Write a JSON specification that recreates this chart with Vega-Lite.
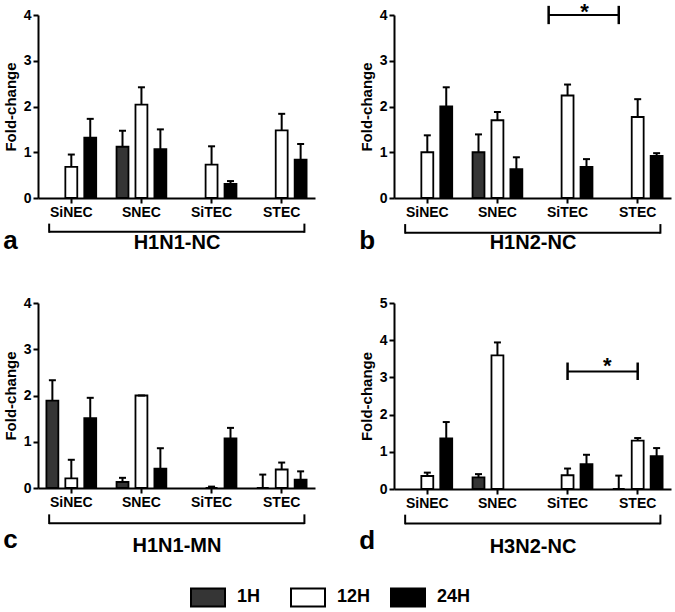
{
  "$schema": "https://vega.github.io/schema/vega-lite/v6.json",
  "padding": {"left": 3, "top": 0, "right": 2, "bottom": 2},
  "spacing": 42,
  "config": {
    "font": "Liberation Sans",
    "view": {"stroke": null},
    "axis": {"labelFont": "Liberation Sans", "labelFontWeight": "bold", "labelColor": "black", "titleFont": "Liberation Sans", "titleFontWeight": "bold", "titleColor": "black", "domainColor": "black", "tickColor": "black", "grid": false, "domainWidth": 2, "tickWidth": 2, "labelOverlap": false},
    "title": {"font": "Liberation Sans", "fontSize": 26, "fontWeight": "bold", "color": "black", "orient": "bottom", "anchor": "start", "offset": -24},
    "legend": {"labelFont": "Liberation Sans", "labelFontSize": 18, "labelFontWeight": "bold", "labelColor": "black", "symbolStrokeColor": "black", "symbolStrokeWidth": 2, "symbolType": "M-1,-0.53H1V0.53H-1Z", "symbolSize": 1156, "labelOffset": 11, "columnPadding": 16, "gridAlign": "all"}
  },
  "datasets": {
    "d": [
      {"panel": "a", "cell": "SiNEC", "time": "12H", "value": 0.68, "err": 0.95},
      {"panel": "a", "cell": "SiNEC", "time": "24H", "value": 1.32, "err": 1.73},
      {"panel": "a", "cell": "SNEC", "time": "1H", "value": 1.12, "err": 1.47},
      {"panel": "a", "cell": "SNEC", "time": "12H", "value": 2.04, "err": 2.42},
      {"panel": "a", "cell": "SNEC", "time": "24H", "value": 1.07, "err": 1.5},
      {"panel": "a", "cell": "SiTEC", "time": "12H", "value": 0.73, "err": 1.13},
      {"panel": "a", "cell": "SiTEC", "time": "24H", "value": 0.31, "err": 0.37},
      {"panel": "a", "cell": "STEC", "time": "12H", "value": 1.48, "err": 1.84},
      {"panel": "a", "cell": "STEC", "time": "24H", "value": 0.84, "err": 1.18},
      {"panel": "b", "cell": "SiNEC", "time": "12H", "value": 1.0, "err": 1.37},
      {"panel": "b", "cell": "SiNEC", "time": "24H", "value": 2.0, "err": 2.42},
      {"panel": "b", "cell": "SNEC", "time": "1H", "value": 1.0, "err": 1.39},
      {"panel": "b", "cell": "SNEC", "time": "12H", "value": 1.7, "err": 1.88},
      {"panel": "b", "cell": "SNEC", "time": "24H", "value": 0.63, "err": 0.89},
      {"panel": "b", "cell": "SiTEC", "time": "12H", "value": 2.24, "err": 2.48},
      {"panel": "b", "cell": "SiTEC", "time": "24H", "value": 0.68, "err": 0.85},
      {"panel": "b", "cell": "STEC", "time": "12H", "value": 1.77, "err": 2.16},
      {"panel": "b", "cell": "STEC", "time": "24H", "value": 0.92, "err": 0.98},
      {"panel": "c", "cell": "SiNEC", "time": "1H", "value": 1.89, "err": 2.33},
      {"panel": "c", "cell": "SiNEC", "time": "12H", "value": 0.21, "err": 0.61},
      {"panel": "c", "cell": "SiNEC", "time": "24H", "value": 1.51, "err": 1.95},
      {"panel": "c", "cell": "SNEC", "time": "1H", "value": 0.13, "err": 0.22},
      {"panel": "c", "cell": "SNEC", "time": "12H", "value": 2.0, "err": 2.0},
      {"panel": "c", "cell": "SNEC", "time": "24H", "value": 0.42, "err": 0.86},
      {"panel": "c", "cell": "SiTEC", "time": "12H", "value": 0.0, "err": 0.03},
      {"panel": "c", "cell": "SiTEC", "time": "24H", "value": 1.07, "err": 1.3},
      {"panel": "c", "cell": "STEC", "time": "1H", "value": 0.0, "err": 0.29},
      {"panel": "c", "cell": "STEC", "time": "12H", "value": 0.4, "err": 0.55},
      {"panel": "c", "cell": "STEC", "time": "24H", "value": 0.18, "err": 0.36},
      {"panel": "d", "cell": "SiNEC", "time": "12H", "value": 0.35, "err": 0.44},
      {"panel": "d", "cell": "SiNEC", "time": "24H", "value": 1.36, "err": 1.8},
      {"panel": "d", "cell": "SNEC", "time": "1H", "value": 0.31, "err": 0.4},
      {"panel": "d", "cell": "SNEC", "time": "12H", "value": 3.59, "err": 3.94},
      {"panel": "d", "cell": "SiTEC", "time": "12H", "value": 0.37, "err": 0.55},
      {"panel": "d", "cell": "SiTEC", "time": "24H", "value": 0.67, "err": 0.92},
      {"panel": "d", "cell": "STEC", "time": "1H", "value": 0.0, "err": 0.36},
      {"panel": "d", "cell": "STEC", "time": "12H", "value": 1.3, "err": 1.37},
      {"panel": "d", "cell": "STEC", "time": "24H", "value": 0.88, "err": 1.1}
    ]
  },
  "vconcat": [
    {
      "spacing": 44,
      "hconcat": [
        {
          "width": 277, "height": 183,
          "title": {"text": "a"},
          "layer": [
            {"data": {"name": "d"}, "transform": [{"filter": "datum.panel === 'a'"}],
             "mark": {"type": "bar", "stroke": "black", "strokeWidth": 1.8},
             "encoding": {
               "x": {"field": "cell", "type": "nominal", "scale": {"domain": ["SiNEC", "SNEC", "SiTEC", "STEC"], "paddingInner": 0.19, "paddingOuter": 0.07}, "axis": {"title": "H1N1-NC", "labelFontSize": 14, "labelAngle": 0, "tickSize": 5, "labelPadding": 2, "titleFontSize": 20, "titlePadding": 13}},
               "xOffset": {"field": "time", "type": "nominal", "scale": {"domain": ["1H", "12H", "24H"], "paddingInner": 0.37, "paddingOuter": 0.185}},
               "y": {"field": "value", "type": "quantitative", "scale": {"domain": [0, 4], "nice": false}, "axis": {"title": "Fold-change", "values": [0, 1, 2, 3, 4], "labelOverlap": false, "labelFontSize": 14, "tickSize": 5, "labelPadding": 2, "titleFontSize": 15, "titlePadding": 5}},
               "fill": {"field": "time", "type": "nominal", "scale": {"domain": ["1H", "12H", "24H"], "range": ["#353535", "#ffffff", "#000000"]}, "legend": {"title": null, "orient": "none", "direction": "horizontal", "legendX": 152, "legendY": 564}}
             }},
            {"data": {"name": "d"}, "transform": [{"filter": "datum.panel === 'a'"}],
             "mark": {"type": "rule", "strokeWidth": 2, "color": "black"},
             "encoding": {"x": {"field": "cell", "type": "nominal", "axis": {"title": "H1N1-NC", "labelFontSize": 14, "labelAngle": 0, "tickSize": 5, "labelPadding": 2, "titleFontSize": 20, "titlePadding": 13}}, "xOffset": {"field": "time", "type": "nominal"}, "y": {"field": "value", "type": "quantitative", "axis": {"title": "Fold-change", "values": [0, 1, 2, 3, 4], "labelOverlap": false, "labelFontSize": 14, "tickSize": 5, "labelPadding": 2, "titleFontSize": 15, "titlePadding": 5}}, "y2": {"field": "err"}}},
            {"data": {"name": "d"}, "transform": [{"filter": "datum.panel === 'a'"}],
             "mark": {"type": "tick", "orient": "horizontal", "size": 7, "thickness": 2, "color": "black", "opacity": 1},
             "encoding": {"x": {"field": "cell", "type": "nominal", "axis": {"title": "H1N1-NC", "labelFontSize": 14, "labelAngle": 0, "tickSize": 5, "labelPadding": 2, "titleFontSize": 20, "titlePadding": 13}}, "xOffset": {"field": "time", "type": "nominal"}, "y": {"field": "err", "type": "quantitative", "axis": {"title": "Fold-change", "values": [0, 1, 2, 3, 4], "labelOverlap": false, "labelFontSize": 14, "tickSize": 5, "labelPadding": 2, "titleFontSize": 15, "titlePadding": 5}}}},
            {"data": {"values": [{"yv": -0.74, "ya": -0.76, "yb": -0.56}]}, "mark": {"type": "rule", "strokeWidth": 2, "color": "black"},
             "encoding": {"x": {"datum": "SiNEC", "bandPosition": 0.11, "axis": {"title": "H1N1-NC", "labelFontSize": 14, "labelAngle": 0, "tickSize": 5, "labelPadding": 2, "titleFontSize": 20, "titlePadding": 13}}, "x2": {"datum": "STEC", "bandPosition": 0.9}, "y": {"field": "yv", "type": "quantitative", "axis": {"title": "Fold-change", "values": [0, 1, 2, 3, 4], "labelOverlap": false, "labelFontSize": 14, "tickSize": 5, "labelPadding": 2, "titleFontSize": 15, "titlePadding": 5}}}},
            {"data": {"values": [{"yv": -0.74, "ya": -0.76, "yb": -0.56}]}, "mark": {"type": "rule", "strokeWidth": 2, "color": "black"},
             "encoding": {"x": {"datum": "SiNEC", "bandPosition": 0.11, "axis": {"title": "H1N1-NC", "labelFontSize": 14, "labelAngle": 0, "tickSize": 5, "labelPadding": 2, "titleFontSize": 20, "titlePadding": 13}}, "y": {"field": "ya", "type": "quantitative", "axis": {"title": "Fold-change", "values": [0, 1, 2, 3, 4], "labelOverlap": false, "labelFontSize": 14, "tickSize": 5, "labelPadding": 2, "titleFontSize": 15, "titlePadding": 5}}, "y2": {"field": "yb"}}},
            {"data": {"values": [{"yv": -0.74, "ya": -0.76, "yb": -0.56}]}, "mark": {"type": "rule", "strokeWidth": 2, "color": "black"},
             "encoding": {"x": {"datum": "STEC", "bandPosition": 0.9, "axis": {"title": "H1N1-NC", "labelFontSize": 14, "labelAngle": 0, "tickSize": 5, "labelPadding": 2, "titleFontSize": 20, "titlePadding": 13}}, "y": {"field": "ya", "type": "quantitative", "axis": {"title": "Fold-change", "values": [0, 1, 2, 3, 4], "labelOverlap": false, "labelFontSize": 14, "tickSize": 5, "labelPadding": 2, "titleFontSize": 15, "titlePadding": 5}}, "y2": {"field": "yb"}}}
          ]
        },
        {
          "width": 277, "height": 183,
          "title": {"text": "b"},
          "layer": [
            {"data": {"name": "d"}, "transform": [{"filter": "datum.panel === 'b'"}],
             "mark": {"type": "bar", "stroke": "black", "strokeWidth": 1.8},
             "encoding": {
               "x": {"field": "cell", "type": "nominal", "scale": {"domain": ["SiNEC", "SNEC", "SiTEC", "STEC"], "paddingInner": 0.19, "paddingOuter": 0.07}, "axis": {"title": "H1N2-NC", "labelFontSize": 14, "labelAngle": 0, "tickSize": 5, "labelPadding": 2, "titleFontSize": 20, "titlePadding": 13}},
               "xOffset": {"field": "time", "type": "nominal", "scale": {"domain": ["1H", "12H", "24H"], "paddingInner": 0.37, "paddingOuter": 0.185}},
               "y": {"field": "value", "type": "quantitative", "scale": {"domain": [0, 4], "nice": false}, "axis": {"title": "Fold-change", "values": [0, 1, 2, 3, 4], "labelOverlap": false, "labelFontSize": 14, "tickSize": 5, "labelPadding": 2, "titleFontSize": 15, "titlePadding": 5}},
               "fill": {"field": "time", "type": "nominal", "scale": {"domain": ["1H", "12H", "24H"], "range": ["#353535", "#ffffff", "#000000"]}, "legend": {"title": null, "orient": "none", "direction": "horizontal", "legendX": 152, "legendY": 564}}
             }},
            {"data": {"name": "d"}, "transform": [{"filter": "datum.panel === 'b'"}],
             "mark": {"type": "rule", "strokeWidth": 2, "color": "black"},
             "encoding": {"x": {"field": "cell", "type": "nominal", "axis": {"title": "H1N2-NC", "labelFontSize": 14, "labelAngle": 0, "tickSize": 5, "labelPadding": 2, "titleFontSize": 20, "titlePadding": 13}}, "xOffset": {"field": "time", "type": "nominal"}, "y": {"field": "value", "type": "quantitative", "axis": {"title": "Fold-change", "values": [0, 1, 2, 3, 4], "labelOverlap": false, "labelFontSize": 14, "tickSize": 5, "labelPadding": 2, "titleFontSize": 15, "titlePadding": 5}}, "y2": {"field": "err"}}},
            {"data": {"name": "d"}, "transform": [{"filter": "datum.panel === 'b'"}],
             "mark": {"type": "tick", "orient": "horizontal", "size": 7, "thickness": 2, "color": "black", "opacity": 1},
             "encoding": {"x": {"field": "cell", "type": "nominal", "axis": {"title": "H1N2-NC", "labelFontSize": 14, "labelAngle": 0, "tickSize": 5, "labelPadding": 2, "titleFontSize": 20, "titlePadding": 13}}, "xOffset": {"field": "time", "type": "nominal"}, "y": {"field": "err", "type": "quantitative", "axis": {"title": "Fold-change", "values": [0, 1, 2, 3, 4], "labelOverlap": false, "labelFontSize": 14, "tickSize": 5, "labelPadding": 2, "titleFontSize": 15, "titlePadding": 5}}}},
            {"data": {"values": [{"yv": -0.76, "ya": -0.78, "yb": -0.57}]}, "mark": {"type": "rule", "strokeWidth": 2, "color": "black"},
             "encoding": {"x": {"datum": "SiNEC", "bandPosition": 0.11, "axis": {"title": "H1N2-NC", "labelFontSize": 14, "labelAngle": 0, "tickSize": 5, "labelPadding": 2, "titleFontSize": 20, "titlePadding": 13}}, "x2": {"datum": "STEC", "bandPosition": 0.9}, "y": {"field": "yv", "type": "quantitative", "axis": {"title": "Fold-change", "values": [0, 1, 2, 3, 4], "labelOverlap": false, "labelFontSize": 14, "tickSize": 5, "labelPadding": 2, "titleFontSize": 15, "titlePadding": 5}}}},
            {"data": {"values": [{"yv": -0.76, "ya": -0.78, "yb": -0.57}]}, "mark": {"type": "rule", "strokeWidth": 2, "color": "black"},
             "encoding": {"x": {"datum": "SiNEC", "bandPosition": 0.11, "axis": {"title": "H1N2-NC", "labelFontSize": 14, "labelAngle": 0, "tickSize": 5, "labelPadding": 2, "titleFontSize": 20, "titlePadding": 13}}, "y": {"field": "ya", "type": "quantitative", "axis": {"title": "Fold-change", "values": [0, 1, 2, 3, 4], "labelOverlap": false, "labelFontSize": 14, "tickSize": 5, "labelPadding": 2, "titleFontSize": 15, "titlePadding": 5}}, "y2": {"field": "yb"}}},
            {"data": {"values": [{"yv": -0.76, "ya": -0.78, "yb": -0.57}]}, "mark": {"type": "rule", "strokeWidth": 2, "color": "black"},
             "encoding": {"x": {"datum": "STEC", "bandPosition": 0.9, "axis": {"title": "H1N2-NC", "labelFontSize": 14, "labelAngle": 0, "tickSize": 5, "labelPadding": 2, "titleFontSize": 20, "titlePadding": 13}}, "y": {"field": "ya", "type": "quantitative", "axis": {"title": "Fold-change", "values": [0, 1, 2, 3, 4], "labelOverlap": false, "labelFontSize": 14, "tickSize": 5, "labelPadding": 2, "titleFontSize": 15, "titlePadding": 5}}, "y2": {"field": "yb"}}},
            {"data": {"values": [{"yv": 4.0, "ya": 3.8, "yb": 4.2, "ys": 3.92}]}, "mark": {"type": "rule", "strokeWidth": 2, "color": "black"},
             "encoding": {"x": {"datum": "SiTEC", "bandPosition": 0.167, "axis": {"title": "H1N2-NC", "labelFontSize": 14, "labelAngle": 0, "tickSize": 5, "labelPadding": 2, "titleFontSize": 20, "titlePadding": 13}}, "x2": {"datum": "STEC", "bandPosition": 0.167}, "y": {"field": "yv", "type": "quantitative", "axis": {"title": "Fold-change", "values": [0, 1, 2, 3, 4], "labelOverlap": false, "labelFontSize": 14, "tickSize": 5, "labelPadding": 2, "titleFontSize": 15, "titlePadding": 5}}}},
            {"data": {"values": [{"yv": 4.0, "ya": 3.8, "yb": 4.2, "ys": 3.92}]}, "mark": {"type": "rule", "strokeWidth": 2.5, "color": "black"},
             "encoding": {"x": {"datum": "SiTEC", "bandPosition": 0.167, "axis": {"title": "H1N2-NC", "labelFontSize": 14, "labelAngle": 0, "tickSize": 5, "labelPadding": 2, "titleFontSize": 20, "titlePadding": 13}}, "y": {"field": "ya", "type": "quantitative", "axis": {"title": "Fold-change", "values": [0, 1, 2, 3, 4], "labelOverlap": false, "labelFontSize": 14, "tickSize": 5, "labelPadding": 2, "titleFontSize": 15, "titlePadding": 5}}, "y2": {"field": "yb"}}},
            {"data": {"values": [{"yv": 4.0, "ya": 3.8, "yb": 4.2, "ys": 3.92}]}, "mark": {"type": "rule", "strokeWidth": 2.5, "color": "black"},
             "encoding": {"x": {"datum": "STEC", "bandPosition": 0.167, "axis": {"title": "H1N2-NC", "labelFontSize": 14, "labelAngle": 0, "tickSize": 5, "labelPadding": 2, "titleFontSize": 20, "titlePadding": 13}}, "y": {"field": "ya", "type": "quantitative", "axis": {"title": "Fold-change", "values": [0, 1, 2, 3, 4], "labelOverlap": false, "labelFontSize": 14, "tickSize": 5, "labelPadding": 2, "titleFontSize": 15, "titlePadding": 5}}, "y2": {"field": "yb"}}},
            {"data": {"values": [{"yv": 4.0, "ya": 3.8, "yb": 4.2, "ys": 3.92}]}, "mark": {"type": "text", "text": "*", "fontSize": 22, "fontWeight": "bold", "color": "black", "baseline": "alphabetic", "align": "center"},
             "encoding": {"x": {"datum": "SiTEC", "bandPosition": 0.8, "axis": {"title": "H1N2-NC", "labelFontSize": 14, "labelAngle": 0, "tickSize": 5, "labelPadding": 2, "titleFontSize": 20, "titlePadding": 13}}, "y": {"field": "ys", "type": "quantitative", "axis": {"title": "Fold-change", "values": [0, 1, 2, 3, 4], "labelOverlap": false, "labelFontSize": 14, "tickSize": 5, "labelPadding": 2, "titleFontSize": 15, "titlePadding": 5}}}}
          ]
        }
      ]
    },
    {
      "spacing": 44,
      "hconcat": [
        {
          "width": 277, "height": 185,
          "title": {"text": "c", "offset": -28},
          "layer": [
            {"data": {"name": "d"}, "transform": [{"filter": "datum.panel === 'c'"}],
             "mark": {"type": "bar", "stroke": "black", "strokeWidth": 1.8},
             "encoding": {
               "x": {"field": "cell", "type": "nominal", "scale": {"domain": ["SiNEC", "SNEC", "SiTEC", "STEC"], "paddingInner": 0.19, "paddingOuter": 0.07}, "axis": {"title": "H1N1-MN", "labelFontSize": 14, "labelAngle": 0, "tickSize": 5, "labelPadding": 2, "titleFontSize": 20, "titlePadding": 26}},
               "xOffset": {"field": "time", "type": "nominal", "scale": {"domain": ["1H", "12H", "24H"], "paddingInner": 0.37, "paddingOuter": 0.185}},
               "y": {"field": "value", "type": "quantitative", "scale": {"domain": [0, 4], "nice": false}, "axis": {"title": "Fold-change", "values": [0, 1, 2, 3, 4], "labelOverlap": false, "labelFontSize": 14, "tickSize": 5, "labelPadding": 2, "titleFontSize": 15, "titlePadding": 5}},
               "fill": {"field": "time", "type": "nominal", "scale": {"domain": ["1H", "12H", "24H"], "range": ["#353535", "#ffffff", "#000000"]}, "legend": {"title": null, "orient": "none", "direction": "horizontal", "legendX": 152, "legendY": 564}}
             }},
            {"data": {"name": "d"}, "transform": [{"filter": "datum.panel === 'c'"}],
             "mark": {"type": "rule", "strokeWidth": 2, "color": "black"},
             "encoding": {"x": {"field": "cell", "type": "nominal", "axis": {"title": "H1N1-MN", "labelFontSize": 14, "labelAngle": 0, "tickSize": 5, "labelPadding": 2, "titleFontSize": 20, "titlePadding": 26}}, "xOffset": {"field": "time", "type": "nominal"}, "y": {"field": "value", "type": "quantitative", "axis": {"title": "Fold-change", "values": [0, 1, 2, 3, 4], "labelOverlap": false, "labelFontSize": 14, "tickSize": 5, "labelPadding": 2, "titleFontSize": 15, "titlePadding": 5}}, "y2": {"field": "err"}}},
            {"data": {"name": "d"}, "transform": [{"filter": "datum.panel === 'c'"}],
             "mark": {"type": "tick", "orient": "horizontal", "size": 7, "thickness": 2, "color": "black", "opacity": 1},
             "encoding": {"x": {"field": "cell", "type": "nominal", "axis": {"title": "H1N1-MN", "labelFontSize": 14, "labelAngle": 0, "tickSize": 5, "labelPadding": 2, "titleFontSize": 20, "titlePadding": 26}}, "xOffset": {"field": "time", "type": "nominal"}, "y": {"field": "err", "type": "quantitative", "axis": {"title": "Fold-change", "values": [0, 1, 2, 3, 4], "labelOverlap": false, "labelFontSize": 14, "tickSize": 5, "labelPadding": 2, "titleFontSize": 15, "titlePadding": 5}}}},
            {"data": {"values": [{"yv": -0.76, "ya": -0.78, "yb": -0.57}]}, "mark": {"type": "rule", "strokeWidth": 2, "color": "black"},
             "encoding": {"x": {"datum": "SiNEC", "bandPosition": 0.11, "axis": {"title": "H1N1-MN", "labelFontSize": 14, "labelAngle": 0, "tickSize": 5, "labelPadding": 2, "titleFontSize": 20, "titlePadding": 26}}, "x2": {"datum": "STEC", "bandPosition": 0.9}, "y": {"field": "yv", "type": "quantitative", "axis": {"title": "Fold-change", "values": [0, 1, 2, 3, 4], "labelOverlap": false, "labelFontSize": 14, "tickSize": 5, "labelPadding": 2, "titleFontSize": 15, "titlePadding": 5}}}},
            {"data": {"values": [{"yv": -0.76, "ya": -0.78, "yb": -0.57}]}, "mark": {"type": "rule", "strokeWidth": 2, "color": "black"},
             "encoding": {"x": {"datum": "SiNEC", "bandPosition": 0.11, "axis": {"title": "H1N1-MN", "labelFontSize": 14, "labelAngle": 0, "tickSize": 5, "labelPadding": 2, "titleFontSize": 20, "titlePadding": 26}}, "y": {"field": "ya", "type": "quantitative", "axis": {"title": "Fold-change", "values": [0, 1, 2, 3, 4], "labelOverlap": false, "labelFontSize": 14, "tickSize": 5, "labelPadding": 2, "titleFontSize": 15, "titlePadding": 5}}, "y2": {"field": "yb"}}},
            {"data": {"values": [{"yv": -0.76, "ya": -0.78, "yb": -0.57}]}, "mark": {"type": "rule", "strokeWidth": 2, "color": "black"},
             "encoding": {"x": {"datum": "STEC", "bandPosition": 0.9, "axis": {"title": "H1N1-MN", "labelFontSize": 14, "labelAngle": 0, "tickSize": 5, "labelPadding": 2, "titleFontSize": 20, "titlePadding": 26}}, "y": {"field": "ya", "type": "quantitative", "axis": {"title": "Fold-change", "values": [0, 1, 2, 3, 4], "labelOverlap": false, "labelFontSize": 14, "tickSize": 5, "labelPadding": 2, "titleFontSize": 15, "titlePadding": 5}}, "y2": {"field": "yb"}}}
          ]
        },
        {
          "width": 277, "height": 186,
          "title": {"text": "d", "offset": -28},
          "layer": [
            {"data": {"name": "d"}, "transform": [{"filter": "datum.panel === 'd'"}],
             "mark": {"type": "bar", "stroke": "black", "strokeWidth": 1.8},
             "encoding": {
               "x": {"field": "cell", "type": "nominal", "scale": {"domain": ["SiNEC", "SNEC", "SiTEC", "STEC"], "paddingInner": 0.19, "paddingOuter": 0.07}, "axis": {"title": "H3N2-NC", "labelFontSize": 14, "labelAngle": 0, "tickSize": 5, "labelPadding": 2, "titleFontSize": 20, "titlePadding": 26}},
               "xOffset": {"field": "time", "type": "nominal", "scale": {"domain": ["1H", "12H", "24H"], "paddingInner": 0.37, "paddingOuter": 0.185}},
               "y": {"field": "value", "type": "quantitative", "scale": {"domain": [0, 5], "nice": false}, "axis": {"title": "Fold-change", "values": [0, 1, 2, 3, 4, 5], "labelOverlap": false, "labelFontSize": 14, "tickSize": 5, "labelPadding": 2, "titleFontSize": 15, "titlePadding": 5}},
               "fill": {"field": "time", "type": "nominal", "scale": {"domain": ["1H", "12H", "24H"], "range": ["#353535", "#ffffff", "#000000"]}, "legend": {"title": null, "orient": "none", "direction": "horizontal", "legendX": 152, "legendY": 564}}
             }},
            {"data": {"name": "d"}, "transform": [{"filter": "datum.panel === 'd'"}],
             "mark": {"type": "rule", "strokeWidth": 2, "color": "black"},
             "encoding": {"x": {"field": "cell", "type": "nominal", "axis": {"title": "H3N2-NC", "labelFontSize": 14, "labelAngle": 0, "tickSize": 5, "labelPadding": 2, "titleFontSize": 20, "titlePadding": 26}}, "xOffset": {"field": "time", "type": "nominal"}, "y": {"field": "value", "type": "quantitative", "axis": {"title": "Fold-change", "values": [0, 1, 2, 3, 4, 5], "labelOverlap": false, "labelFontSize": 14, "tickSize": 5, "labelPadding": 2, "titleFontSize": 15, "titlePadding": 5}}, "y2": {"field": "err"}}},
            {"data": {"name": "d"}, "transform": [{"filter": "datum.panel === 'd'"}],
             "mark": {"type": "tick", "orient": "horizontal", "size": 7, "thickness": 2, "color": "black", "opacity": 1},
             "encoding": {"x": {"field": "cell", "type": "nominal", "axis": {"title": "H3N2-NC", "labelFontSize": 14, "labelAngle": 0, "tickSize": 5, "labelPadding": 2, "titleFontSize": 20, "titlePadding": 26}}, "xOffset": {"field": "time", "type": "nominal"}, "y": {"field": "err", "type": "quantitative", "axis": {"title": "Fold-change", "values": [0, 1, 2, 3, 4, 5], "labelOverlap": false, "labelFontSize": 14, "tickSize": 5, "labelPadding": 2, "titleFontSize": 15, "titlePadding": 5}}}},
            {"data": {"values": [{"yv": -0.93, "ya": -0.95, "yb": -0.69}]}, "mark": {"type": "rule", "strokeWidth": 2, "color": "black"},
             "encoding": {"x": {"datum": "SiNEC", "bandPosition": 0.11, "axis": {"title": "H3N2-NC", "labelFontSize": 14, "labelAngle": 0, "tickSize": 5, "labelPadding": 2, "titleFontSize": 20, "titlePadding": 26}}, "x2": {"datum": "STEC", "bandPosition": 0.9}, "y": {"field": "yv", "type": "quantitative", "axis": {"title": "Fold-change", "values": [0, 1, 2, 3, 4, 5], "labelOverlap": false, "labelFontSize": 14, "tickSize": 5, "labelPadding": 2, "titleFontSize": 15, "titlePadding": 5}}}},
            {"data": {"values": [{"yv": -0.93, "ya": -0.95, "yb": -0.69}]}, "mark": {"type": "rule", "strokeWidth": 2, "color": "black"},
             "encoding": {"x": {"datum": "SiNEC", "bandPosition": 0.11, "axis": {"title": "H3N2-NC", "labelFontSize": 14, "labelAngle": 0, "tickSize": 5, "labelPadding": 2, "titleFontSize": 20, "titlePadding": 26}}, "y": {"field": "ya", "type": "quantitative", "axis": {"title": "Fold-change", "values": [0, 1, 2, 3, 4, 5], "labelOverlap": false, "labelFontSize": 14, "tickSize": 5, "labelPadding": 2, "titleFontSize": 15, "titlePadding": 5}}, "y2": {"field": "yb"}}},
            {"data": {"values": [{"yv": -0.93, "ya": -0.95, "yb": -0.69}]}, "mark": {"type": "rule", "strokeWidth": 2, "color": "black"},
             "encoding": {"x": {"datum": "STEC", "bandPosition": 0.9, "axis": {"title": "H3N2-NC", "labelFontSize": 14, "labelAngle": 0, "tickSize": 5, "labelPadding": 2, "titleFontSize": 20, "titlePadding": 26}}, "y": {"field": "ya", "type": "quantitative", "axis": {"title": "Fold-change", "values": [0, 1, 2, 3, 4, 5], "labelOverlap": false, "labelFontSize": 14, "tickSize": 5, "labelPadding": 2, "titleFontSize": 15, "titlePadding": 5}}, "y2": {"field": "yb"}}},
            {"data": {"values": [{"yv": 3.16, "ya": 2.93, "yb": 3.4, "ys": 3.13}]}, "mark": {"type": "rule", "strokeWidth": 2, "color": "black"},
             "encoding": {"x": {"datum": "SiTEC", "bandPosition": 0.5, "axis": {"title": "H3N2-NC", "labelFontSize": 14, "labelAngle": 0, "tickSize": 5, "labelPadding": 2, "titleFontSize": 20, "titlePadding": 26}}, "x2": {"datum": "STEC", "bandPosition": 0.5}, "y": {"field": "yv", "type": "quantitative", "axis": {"title": "Fold-change", "values": [0, 1, 2, 3, 4, 5], "labelOverlap": false, "labelFontSize": 14, "tickSize": 5, "labelPadding": 2, "titleFontSize": 15, "titlePadding": 5}}}},
            {"data": {"values": [{"yv": 3.16, "ya": 2.93, "yb": 3.4, "ys": 3.13}]}, "mark": {"type": "rule", "strokeWidth": 2.5, "color": "black"},
             "encoding": {"x": {"datum": "SiTEC", "bandPosition": 0.5, "axis": {"title": "H3N2-NC", "labelFontSize": 14, "labelAngle": 0, "tickSize": 5, "labelPadding": 2, "titleFontSize": 20, "titlePadding": 26}}, "y": {"field": "ya", "type": "quantitative", "axis": {"title": "Fold-change", "values": [0, 1, 2, 3, 4, 5], "labelOverlap": false, "labelFontSize": 14, "tickSize": 5, "labelPadding": 2, "titleFontSize": 15, "titlePadding": 5}}, "y2": {"field": "yb"}}},
            {"data": {"values": [{"yv": 3.16, "ya": 2.93, "yb": 3.4, "ys": 3.13}]}, "mark": {"type": "rule", "strokeWidth": 2.5, "color": "black"},
             "encoding": {"x": {"datum": "STEC", "bandPosition": 0.5, "axis": {"title": "H3N2-NC", "labelFontSize": 14, "labelAngle": 0, "tickSize": 5, "labelPadding": 2, "titleFontSize": 20, "titlePadding": 26}}, "y": {"field": "ya", "type": "quantitative", "axis": {"title": "Fold-change", "values": [0, 1, 2, 3, 4, 5], "labelOverlap": false, "labelFontSize": 14, "tickSize": 5, "labelPadding": 2, "titleFontSize": 15, "titlePadding": 5}}, "y2": {"field": "yb"}}},
            {"data": {"values": [{"yv": 3.16, "ya": 2.93, "yb": 3.4, "ys": 3.13}]}, "mark": {"type": "text", "text": "*", "fontSize": 22, "fontWeight": "bold", "color": "black", "baseline": "alphabetic", "align": "center"},
             "encoding": {"x": {"datum": "SiTEC", "bandPosition": 1.2, "axis": {"title": "H3N2-NC", "labelFontSize": 14, "labelAngle": 0, "tickSize": 5, "labelPadding": 2, "titleFontSize": 20, "titlePadding": 26}}, "y": {"field": "ys", "type": "quantitative", "axis": {"title": "Fold-change", "values": [0, 1, 2, 3, 4, 5], "labelOverlap": false, "labelFontSize": 14, "tickSize": 5, "labelPadding": 2, "titleFontSize": 15, "titlePadding": 5}}}}
          ]
        }
      ]
    }
  ]
}
